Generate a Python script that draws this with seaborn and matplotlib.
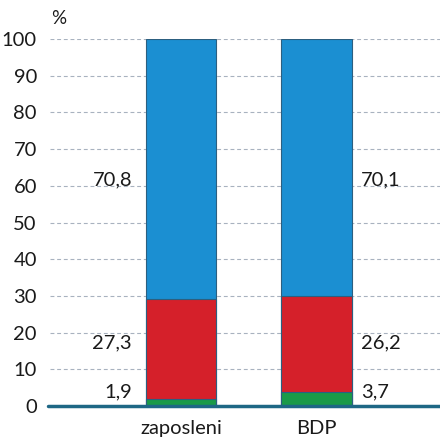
import matplotlib
matplotlib.use("Agg")
import matplotlib.pyplot as plt
import seaborn as sns
import numpy as np
import pandas as pd

categories = ["zaposleni", "BDP"]
green_vals = [1.9, 3.7]
red_vals = [27.3, 26.2]
blue_vals = [70.8, 70.1]
green_lbl = ["1,9", "3,7"]
red_lbl = ["27,3", "26,2"]
blue_lbl = ["70,8", "70,1"]
yticks = [0, 10, 20, 30, 40, 50, 60, 70, 80, 90, 100]

sns.set_theme(style="white")
plt.rcParams['font.family'] = ['Lato', 'DejaVu Sans']

fig = plt.figure(figsize=(4.40, 4.41), dpi=100)
W, H = 440, 441
ax = fig.add_axes([48 / W, (H - 406) / H, (440 - 48) / W, (406 - 39) / H])

g = np.array(green_vals)
r = np.array(red_vals)
b = np.array(blue_vals)
cum_red = g + r
cum_blue = g + r + b

df = pd.DataFrame({"cat": categories, "green": g, "red": cum_red, "blue": cum_blue})
edge = "#2c5f80"
for col, color in [("blue", "#1b8fd2"), ("red", "#d5202a"), ("green", "#1a9a48")]:
    sns.barplot(data=df, x="cat", y=col, color=color, width=0.52, ax=ax,
                edgecolor=edge, linewidth=0.8, saturation=1, zorder=3)

fs = 14.5
ax.set_xlim(-0.98, 1.91)
ax.set_ylim(0, 100)
ax.set_yticks(yticks)
ax.set_yticklabels([str(v) for v in yticks])
ax.set_xlabel("")
ax.set_ylabel("")
for s in ax.spines.values():
    s.set_visible(False)
ax.tick_params(axis="both", length=0, labelsize=fs, colors="#1a1a1a")
ax.tick_params(axis="y", pad=8)
ax.tick_params(axis="x", pad=10)

for v in yticks[1:]:
    ax.axhline(v, color="#a8b2bf", linewidth=0.8, linestyle=(0, (3.5, 2.5)), zorder=1,
               xmin=2 / 392)
ax.axhline(0, color="#1e6785", linewidth=2.5, zorder=5, clip_on=False)

ax.text(-0.955, 105.5, "%", fontsize=13.5, color="#1a1a1a", ha="left", va="center")

lbl_y_blue = 61.5
lbl_y_red = 17.2
lbl_y_green = 3.8
for i, ha, xoff in [(0, "right", -0.36), (1, "left", 0.33)]:
    ax.text(i + xoff, lbl_y_blue, blue_lbl[i], ha=ha, va="center", fontsize=fs, color="#1a1a1a")
    ax.text(i + xoff, lbl_y_red, red_lbl[i], ha=ha, va="center", fontsize=fs, color="#1a1a1a")
    ax.text(i + xoff, lbl_y_green, green_lbl[i], ha=ha, va="center", fontsize=fs, color="#1a1a1a")

fig.savefig("out.png", dpi=100)
